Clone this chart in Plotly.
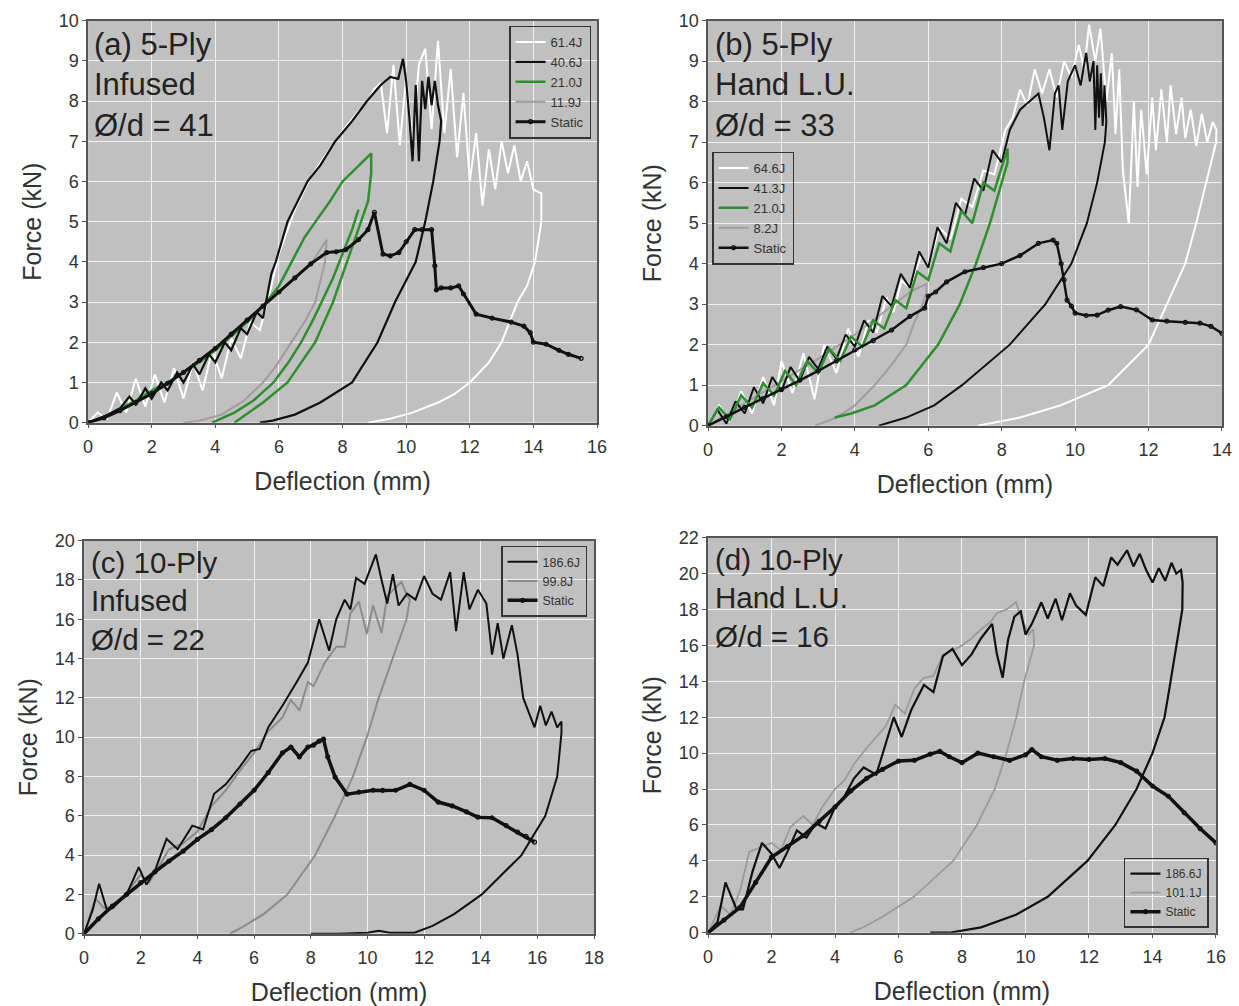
import plotly.graph_objects as go

FONT = "Liberation Sans, Arial, Helvetica, sans-serif"

# ---------------- Panel (a): 5-Ply Infused ----------------
A_X_614 = [0, 0.3, 0.6, 0.9, 1.2, 1.5, 1.8, 2.1, 2.4, 2.7, 3.0, 3.3, 3.6, 3.9, 4.2, 4.5, 4.8, 5.1, 5.4, 5.7,
           6.0, 6.5, 7.0, 7.5, 8.0, 8.5, 8.8, 9.0, 9.2, 9.4, 9.6, 9.8, 10.0, 10.2, 10.4, 10.6, 10.8, 11.0, 11.2, 11.4,
           11.6, 11.8, 12.0, 12.2, 12.4, 12.6, 12.8, 13.0, 13.2, 13.4, 13.6, 13.8, 14.0, 14.25,
           14.25, 14.05, 13.8, 13.5, 13.25, 13.0, 12.6, 12.0, 11.5, 11.0, 10.2, 9.5, 8.8]
A_Y_614 = [0, 0.25, 0.1, 0.75, 0.25, 1.1, 0.4, 1.2, 0.5, 1.35, 0.6, 1.5, 0.8, 1.8, 1.1, 2.1, 1.6, 2.5, 2.3, 3.2,
           4.2, 5.3, 6.1, 6.7, 7.25, 7.75, 8.0, 8.3, 8.45, 7.2, 8.9, 6.9, 8.6, 7.0, 8.9, 9.3, 7.3, 9.5, 7.2, 8.8,
           6.6, 8.2, 6.0, 7.2, 5.4, 6.8, 5.8, 7.0, 6.2, 6.9, 6.0, 6.5, 5.8, 5.7,
           5.0, 4.0, 3.4, 3.0, 2.5, 2.0, 1.5, 1.0, 0.7, 0.5, 0.25, 0.1, 0.0]

A_X_406 = [0, 0.5, 1.0, 1.3, 1.5, 1.8, 2.0, 2.3, 2.5, 2.8, 3.0, 3.3, 3.5, 3.8, 4.0, 4.3, 4.5, 4.8, 5.0, 5.3,
           5.5, 5.76, 5.9, 6.27, 6.9, 7.3, 7.77, 8.3, 8.77, 9.2, 9.5, 9.75, 9.9, 10.0, 10.1, 10.2, 10.3, 10.4, 10.5, 10.6,
           10.7, 10.8, 10.9, 11.0, 11.1,
           11.05, 10.85, 10.6, 10.3, 9.65, 9.1, 8.7, 8.3, 7.3, 6.5, 5.8, 5.4]
A_Y_406 = [0, 0.15, 0.35, 0.65, 0.45, 0.85, 0.6, 1.0, 0.8, 1.25, 1.0, 1.45, 1.2, 1.7, 1.5, 2.0, 1.8, 2.35, 2.2, 2.75,
           2.6, 3.7, 4.0, 5.0, 6.0, 6.4, 7.0, 7.5, 8.0, 8.4, 8.6, 8.55, 9.05, 8.5, 7.6, 6.5, 8.4, 6.5, 8.5, 7.8,
           8.6, 7.9, 8.5, 7.9, 7.5,
           7.0, 6.0, 5.0, 4.0, 3.0, 2.0, 1.5, 1.0, 0.5, 0.2, 0.05, 0.0]

A_X_210 = [0, 0.5, 1.0, 1.5, 2.0, 2.5, 3.0, 3.5, 4.0, 4.5, 5.0, 5.5, 5.8, 6.0, 6.4, 6.8, 7.15, 7.6, 8.0, 8.5, 8.9,
           8.9, 8.8, 8.58, 8.15, 7.7, 7.14, 6.27, 5.5, 4.6, None,
           3.9, 4.6, 5.2, 5.83, 6.3, 6.7, 7.1, 7.4, 7.7, 8.0, 8.3, 8.5]
A_Y_210 = [0, 0.15, 0.35, 0.55, 0.8, 1.0, 1.25, 1.5, 1.8, 2.15, 2.5, 2.9, 3.2, 3.4, 4.0, 4.6, 5.0, 5.5, 6.0, 6.4, 6.7,
           6.2, 5.5, 5.0, 4.0, 3.0, 2.0, 1.0, 0.5, 0.0, None,
           0, 0.25, 0.55, 1.0, 1.5, 2.0, 2.6, 3.1, 3.6, 4.2, 4.8, 5.3]

A_X_119 = [0, 1, 2, 3, 4, 5, 6, 6.5, 7.0, 7.3, 7.5, 7.45, 7.3, 7.14, 6.8, 6.4, 5.9, 5.5, 4.9, 4.2, 3.5, 3.0]
A_Y_119 = [0, 0.3, 0.72, 1.25, 1.85, 2.55, 3.25, 3.6, 3.95, 4.3, 4.55, 4.0, 3.5, 3.0, 2.5, 2.0, 1.4, 1.0, 0.55, 0.2, 0.05, 0.0]

A_X_ST = [0, 0.5, 1, 1.5, 2, 2.5, 3, 3.5, 4, 4.5, 5, 5.5, 6, 6.5, 7, 7.5, 7.8, 8.1, 8.5, 8.8,
          9.0, 9.27, 9.5, 9.77, 10.0, 10.27, 10.5, 10.8, 10.9, 10.95, 11.1, 11.4, 11.65, 11.8, 12.2, 12.7, 13.3, 13.7, 13.9, 14.0,
          14.4, 14.8, 15.1, 15.5]
A_Y_ST = [0, 0.12, 0.3, 0.5, 0.72, 0.98, 1.25, 1.55, 1.85, 2.2, 2.55, 2.9, 3.25, 3.6, 3.95, 4.23, 4.25, 4.3, 4.55, 4.8,
          5.23, 4.19, 4.15, 4.23, 4.5, 4.8, 4.8, 4.8, 3.9, 3.3, 3.35, 3.35, 3.4, 3.2, 2.7, 2.6, 2.5, 2.4, 2.24, 2.0,
          1.95, 1.8, 1.7, 1.6]

# ---------------- Panel (b): 5-Ply Hand L.U. ----------------
B_X_646 = [0, 0.3, 0.6, 0.9, 1.2, 1.5, 1.8, 2.0, 2.3, 2.6, 2.9, 3.16, 3.5, 3.82, 4.1, 4.37, 4.6, 4.86, 5.05, 5.27,
           5.5, 5.8, 6.0, 6.3, 6.6, 6.9, 7.2, 7.5, 7.8, 8.1,
           8.3, 8.5, 8.7, 8.9, 9.1, 9.3, 9.5, 9.7, 9.9, 10.1, 10.25, 10.38, 10.55, 10.69, 10.85, 11.0, 11.1, 11.2, 11.3, 11.46,
           11.6, 11.7, 11.8, 11.95, 12.1, 12.2, 12.35, 12.5, 12.6, 12.75, 12.9, 13.0, 13.15, 13.3, 13.45, 13.6, 13.75, 13.85,
           13.84, 13.57, 13.3, 13.0, 12.5, 12.0, 10.9, 9.6, 8.5, 7.35]
B_Y_646 = [0, 0.5, 0.1, 0.85, 0.3, 1.2, 0.5, 1.6, 0.8, 1.78, 0.65, 2.0, 1.3, 2.4, 1.7, 2.6, 2.3, 3.16, 2.8, 3.58,
           3.4, 4.2, 3.9, 4.9, 4.6, 5.6, 5.4, 6.3, 6.2, 7.3,
           7.6, 8.3, 7.9, 8.8, 8.2, 8.8, 8.1, 9.0, 8.6, 9.4, 8.8, 9.9, 9.0, 9.8, 8.0, 9.2, 7.2, 8.8, 6.3, 5.0,
           8.0, 5.9, 7.8, 6.2, 8.1, 6.8, 8.3, 7.0, 8.4, 7.2, 8.1, 7.1, 7.8, 6.9, 7.7, 7.0, 7.5, 7.3,
           7.0, 6.0, 5.0, 4.0, 3.0, 2.0, 1.0, 0.5, 0.2, 0.0]

B_X_413 = [0, 0.25, 0.5, 0.75, 1.0, 1.25, 1.5, 1.75, 2.0, 2.25, 2.5, 2.75, 3.0, 3.25, 3.5, 3.75, 4.0, 4.25, 4.5, 4.75,
           5.0, 5.25, 5.5, 5.75, 6.0, 6.25, 6.5, 6.75, 7.0, 7.25, 7.5, 7.75, 8.0, 8.22,
           8.5, 8.8, 9.0, 9.15, 9.3, 9.45, 9.55, 9.65, 9.8, 10.0, 10.15, 10.3, 10.4, 10.5, 10.55, 10.6, 10.65, 10.7, 10.75, 10.8, 10.85,
           10.81, 10.6, 10.32, 9.9, 9.19, 8.22, 6.92, 6.16, 5.4, 4.65]
B_Y_413 = [0, 0.4, 0.05, 0.6, 0.3, 0.95, 0.55, 1.2, 0.85, 1.45, 1.1, 1.7, 1.4, 1.95, 1.65, 2.25, 1.95, 2.6, 2.3, 3.2,
           2.95, 3.75, 3.4, 4.3, 3.9, 4.9, 4.5, 5.5, 5.2, 6.1, 5.8, 6.8, 6.5, 7.3,
           7.8, 8.05, 8.2, 7.6, 6.8, 8.2, 8.4, 7.3, 8.5, 8.9, 8.4, 9.2, 8.5, 9.0, 7.3, 8.9, 7.6, 8.7, 7.4, 8.4, 7.5,
           7.0, 6.0, 5.0, 4.0, 3.0, 2.0, 1.0, 0.5, 0.2, 0.0]

B_X_210 = [0, 0.3, 0.6, 0.9, 1.2, 1.5, 1.8, 2.1, 2.4, 2.7, 3.0, 3.3, 3.6, 3.9, 4.2, 4.5, 4.8, 5.1, 5.4, 5.7,
           6.0, 6.3, 6.6, 6.9, 7.2, 7.5, 7.8, 8.16,
           8.16, 8.0, 7.68, 7.3, 6.86, 6.27, 5.4, 4.54, 3.9, 3.45]
B_Y_210 = [0, 0.45, 0.15, 0.75, 0.45, 1.05, 0.75, 1.35, 1.0, 1.6, 1.3, 1.9, 1.6, 2.2, 1.95, 2.6, 2.4, 3.1, 2.9, 3.8,
           3.6, 4.5, 4.3, 5.3, 5.0, 6.0, 5.8, 6.84,
           6.5, 6.0, 5.0, 4.0, 3.0, 2.0, 1.0, 0.5, 0.3, 0.2]

B_X_82 = [0, 1, 2, 3, 4, 5, 5.5, 5.95, 5.95, 5.84, 5.6, 5.4, 5.0, 4.54, 4.0, 3.5, 2.92]
B_Y_82 = [0, 0.55, 1.1, 1.65, 2.25, 2.95, 3.3, 3.5, 3.3, 3.0, 2.5, 2.0, 1.5, 1.0, 0.5, 0.2, 0.0]

B_X_ST = [0, 0.5, 1, 1.5, 2, 2.5, 3, 3.5, 4, 4.5, 5, 5.5, 5.9, 6.0, 6.2, 6.5, 7, 7.5, 8, 8.5,
          9, 9.4, 9.5, 9.62, 9.7, 9.78, 9.9, 10.0, 10.3, 10.6, 10.9, 11.24, 11.67, 12.1, 12.5, 13.0, 13.4, 13.7, 14.0]
B_Y_ST = [0, 0.22, 0.45, 0.67, 0.89, 1.12, 1.35, 1.6, 1.87, 2.1, 2.36, 2.7, 2.9, 3.2, 3.3, 3.55, 3.8, 3.9, 4.0, 4.2,
          4.5, 4.58, 4.5, 4.0, 3.6, 3.1, 2.95, 2.78, 2.72, 2.73, 2.85, 2.94, 2.86, 2.61, 2.58, 2.55, 2.53, 2.45, 2.28]

# ---------------- Panel (c): 10-Ply Infused ----------------
C_X_1866 = [0, 0.3, 0.53, 0.81, 1.0, 1.5, 1.93, 2.2, 2.5, 2.91, 3.3, 3.82, 4.2, 4.59, 5.0, 5.5, 5.9, 6.2, 6.5, 7.0,
            7.5, 7.9, 8.3, 8.65, 8.9, 9.2, 9.4, 9.6, 9.9, 10.3, 10.5, 10.7, 10.9, 11.1, 11.4, 11.7, 12.0, 12.3, 12.6, 12.92,
            13.13, 13.4, 13.6, 13.9, 14.2, 14.4, 14.6, 14.8, 15.1, 15.3, 15.5, 15.7, 15.9, 16.1, 16.3, 16.5, 16.7, 16.85,
            16.85, 16.7, 16.28, 15.44, 14.6, 14.04, 13.06, 12.3, 11.66, 10.8, 10.4, 10.0, 9.0, 8.0]
C_Y_1866 = [0, 1.2, 2.54, 1.19, 1.3, 2.0, 3.39, 2.5, 3.2, 4.83, 4.3, 5.5, 5.3, 7.12, 7.6, 8.5, 9.3, 9.4, 10.5, 11.6,
            12.8, 13.8, 16.0, 14.4, 16.0, 17.0, 16.5, 18.1, 17.8, 19.3, 18.0, 16.8, 18.3, 16.7, 17.3, 17.0, 18.2, 17.3, 17.0, 18.4,
            15.4, 18.4, 16.5, 17.5, 16.8, 14.2, 15.8, 14.0, 15.7, 14.2, 12.0, 11.2, 10.5, 11.6, 10.6, 11.3, 10.5, 10.8,
            10.2, 8.0, 6.0, 4.0, 2.8, 2.0, 1.0, 0.4, 0.05, 0.05, 0.15, 0.05, 0.0, 0.0]

C_X_998 = [0, 0.4, 0.7, 1.0, 1.5, 2.0, 2.3, 3.0, 3.5, 4.0, 4.5, 5.0, 5.5, 6.0, 6.5, 7.0, 7.3, 7.6, 7.9, 8.1,
           8.5, 8.9, 9.2, 9.4, 9.7, 9.98, 10.2, 10.5, 10.7, 11.0, 11.2, 11.4, 11.5,
           11.38, 10.9, 10.4, 9.98, 9.49, 8.86, 8.16, 7.18, 6.34, 5.6, 5.15]
C_Y_998 = [0, 1.8, 1.3, 1.4, 2.1, 3.0, 2.6, 4.3, 4.6, 5.2, 6.5, 7.3, 8.3, 9.2, 10.3, 11.0, 11.9, 11.36, 12.8, 12.6,
           13.8, 14.6, 14.6, 16.3, 16.9, 15.25, 16.7, 15.3, 17.2, 17.6, 17.9, 17.2, 17.0,
           16.0, 14.0, 12.0, 10.0, 8.0, 6.0, 4.0, 2.0, 1.0, 0.35, 0.0]

C_X_ST = [0, 0.5, 1, 1.5, 2, 2.5, 3, 3.5, 4, 4.5, 5, 5.5, 6, 6.5, 7, 7.3, 7.6, 7.9, 8.1, 8.3,
          8.45, 8.6, 8.86, 9.28, 9.7, 10.2, 10.54, 11.0, 11.5, 12.0, 12.5, 13.0, 13.5, 13.9, 14.4, 14.9, 15.3, 15.6, 15.9]
C_Y_ST = [0, 0.75, 1.4, 2.0, 2.6, 3.15, 3.7, 4.2, 4.8, 5.3, 5.9, 6.6, 7.3, 8.2, 9.2, 9.5, 9.0, 9.5, 9.6, 9.8,
          9.9, 9.0, 7.97, 7.1, 7.2, 7.3, 7.29, 7.3, 7.6, 7.3, 6.7, 6.5, 6.2, 5.93, 5.9, 5.5, 5.17, 4.95, 4.66]

# ---------------- Panel (d): 10-Ply Hand L.U. ----------------
D_X_1866 = [0, 0.3, 0.55, 0.9, 1.1, 1.4, 1.7, 2.0, 2.25, 2.5, 2.8, 3.1, 3.4, 3.7, 4.0, 4.3, 4.6, 4.9, 5.3, 5.6,
            5.85, 6.1, 6.4, 6.8, 7.1, 7.4, 7.7, 8.0, 8.3, 8.6, 8.95, 9.1, 9.28, 9.45, 9.65, 9.85, 10.0, 10.2, 10.5, 10.7,
            10.95, 11.15, 11.4, 11.6, 11.9, 12.2, 12.45, 12.7, 12.9, 13.2, 13.4, 13.6, 13.8, 14.0, 14.2, 14.4, 14.6, 14.75, 14.9, 14.95,
            14.94, 14.57, 14.38, 14.0, 13.5, 12.83, 11.95, 10.7, 9.7, 8.6, 7.6, 7.0]
D_Y_1866 = [0, 0.6, 2.8, 1.3, 1.3, 3.4, 5.0, 4.4, 3.6, 4.5, 5.7, 5.3, 6.1, 5.8, 7.0, 7.6, 8.6, 9.2, 8.8, 10.5,
            12.0, 10.9, 12.4, 13.8, 13.4, 15.4, 15.8, 14.9, 15.5, 16.4, 17.2, 15.5, 14.2, 16.3, 17.6, 17.9, 16.6, 17.2, 18.4, 17.5,
            18.6, 17.4, 18.9, 18.2, 17.7, 19.8, 19.3, 20.9, 20.5, 21.3, 20.4, 21.1, 20.2, 19.5, 20.3, 19.6, 20.6, 20.0, 20.2, 19.5,
            18.0, 14.0, 12.0, 10.0, 8.0, 6.0, 4.0, 2.0, 1.0, 0.3, 0.0, 0.0]

D_X_1011 = [0, 0.4, 0.7, 1.0, 1.3, 1.6, 2.0, 2.3, 2.6, 3.0, 3.3, 3.6, 4.0, 4.3, 4.6, 5.0, 5.3, 5.6, 5.9, 6.2,
            6.5, 6.8, 7.1, 7.4, 7.7, 8.0, 8.3, 8.6, 8.9, 9.1, 9.4, 9.7, 9.85, 10.0, 10.1, 10.25,
            10.27, 9.96, 9.71, 9.4, 9.03, 8.47, 7.72, 6.48, 5.6, 5.0, 4.48]
D_Y_1011 = [0, 1.5, 1.0, 2.3, 4.5, 4.7, 5.0, 4.6, 5.9, 6.5, 6.0, 7.0, 8.0, 8.5, 9.4, 10.3, 10.9, 11.5, 12.7, 12.2,
            13.6, 14.2, 14.3, 15.5, 15.7, 16.0, 16.4, 16.9, 17.3, 17.8, 18.0, 18.4, 17.6, 17.0, 16.6, 16.9,
            16.0, 14.0, 12.0, 10.0, 8.0, 6.0, 4.0, 2.0, 1.0, 0.4, 0.0]

D_X_ST = [0, 0.5, 1, 1.5, 2, 2.5, 3, 3.5, 4, 4.5, 5, 5.5, 6, 6.5, 7, 7.3, 7.6, 8, 8.5, 9,
          9.5, 10, 10.2, 10.5, 11, 11.5, 12, 12.5, 13, 13.5, 14, 14.5, 15, 15.5, 16]
D_Y_ST = [0, 0.7, 1.4, 2.8, 4.2, 4.8, 5.4, 6.2, 7.0, 7.9, 8.6, 9.1, 9.56, 9.6, 9.95, 10.1, 9.8, 9.47, 10.0, 9.8,
          9.6, 9.9, 10.2, 9.8, 9.6, 9.7, 9.65, 9.7, 9.47, 9.0, 8.17, 7.6, 6.68, 5.8, 5.0]

PANEL_TEXT = ["(a) 5-Ply<br>Infused<br>Ø/d = 41",
              "(b) 5-Ply<br>Hand L.U.<br>Ø/d = 33",
              "(c) 10-Ply<br>Infused<br>Ø/d = 22",
              "(d) 10-Ply<br>Hand L.U.<br>Ø/d = 16"]

W, H = 1239, 1006
# mapping from target picture position to figure paper coordinates
# (accounts for the page offset observed in the rendered screenshot)
SX, OX = 0.988, 4.9
SY, OY = 0.98, 9.4


def px(v):
    return ((v - OX) / SX) / W


def py(v):
    return 1 - ((v - OY) / SY) / H


fig = go.Figure()

WHITE = "#ffffff"
BLACK = "#111111"
GREEN = "#2f8f2f"
GRAY_A = "#a49aa0"
GRAY_C = "#8c8c8c"
GRAY_D = "#9a9a9a"


def line(x, y, name, color, width, xa, ya, leg, rank, static=False):
    kw = dict(x=x, y=y, name=name, xaxis=xa, yaxis=ya, legend=leg, legendrank=rank,
              connectgaps=False, hoverinfo="skip")
    if static:
        fig.add_trace(go.Scatter(mode="lines+markers",
                                 line=dict(color=BLACK, width=width),
                                 marker=dict(symbol="circle-open", size=4, color=BLACK,
                                             line=dict(width=1.2, color=BLACK)), **kw))
    else:
        fig.add_trace(go.Scatter(mode="lines", line=dict(color=color, width=width), **kw))


# panel a
line(A_X_614, A_Y_614, "61.4J", WHITE, 2, "x", "y", "legend", 1)
line(A_X_119, A_Y_119, "11.9J", GRAY_A, 2, "x", "y", "legend", 4)
line(A_X_210, A_Y_210, "21.0J", GREEN, 2.5, "x", "y", "legend", 3)
line(A_X_406, A_Y_406, "40.6J", BLACK, 2.2, "x", "y", "legend", 2)
line(A_X_ST, A_Y_ST, "Static", BLACK, 3, "x", "y", "legend", 5, static=True)

# panel b
line(B_X_646, B_Y_646, "64.6J", WHITE, 2, "x2", "y2", "legend2", 1)
line(B_X_82, B_Y_82, "8.2J", GRAY_A, 2, "x2", "y2", "legend2", 4)
line(B_X_413, B_Y_413, "41.3J", BLACK, 2, "x2", "y2", "legend2", 2)
line(B_X_210, B_Y_210, "21.0J", GREEN, 2.5, "x2", "y2", "legend2", 3)
line(B_X_ST, B_Y_ST, "Static", BLACK, 2.5, "x2", "y2", "legend2", 5, static=True)

# panel c
line(C_X_998, C_Y_998, "99.8J", GRAY_C, 2, "x3", "y3", "legend3", 2)
line(C_X_1866, C_Y_1866, "186.6J", BLACK, 2, "x3", "y3", "legend3", 1)
line(C_X_ST, C_Y_ST, "Static", BLACK, 3.5, "x3", "y3", "legend3", 3, static=True)

# panel d
line(D_X_1011, D_Y_1011, "101.1J", GRAY_D, 1.8, "x4", "y4", "legend4", 2)
line(D_X_1866, D_Y_1866, "186.6J", BLACK, 2.2, "x4", "y4", "legend4", 1)
line(D_X_ST, D_Y_ST, "Static", BLACK, 3.5, "x4", "y4", "legend4", 3, static=True)


def xax(dom, rng, anchor):
    return dict(domain=dom, range=rng, dtick=2, anchor=anchor, showgrid=True, gridcolor="#f2f2f2",
                gridwidth=1, zeroline=False, showline=True, linecolor="#555555", linewidth=1.5,
                mirror=True, ticks="outside", ticklen=4, tickcolor="#555555", ticklabelstandoff=3,
                tickfont=dict(size=18, color="#333333", family=FONT),
                title=dict(text="Deflection (mm)", font=dict(size=25, color="#333333", family=FONT), standoff=16))


def yax(dom, rng, dt, anchor):
    return dict(domain=dom, range=rng, dtick=dt, anchor=anchor, showgrid=True, gridcolor="#f2f2f2",
                gridwidth=1, zeroline=False, showline=True, linecolor="#555555", linewidth=1.5,
                mirror=True, ticks="outside", ticklen=4, tickcolor="#555555",
                tickfont=dict(size=18, color="#333333", family=FONT),
                title=dict(text="Force (kN)", font=dict(size=25, color="#333333", family=FONT), standoff=10))


def leg(x, y, xanchor, yanchor, size):
    return dict(x=x, y=y, xanchor=xanchor, yanchor=yanchor, bgcolor="rgba(0,0,0,0)",
                bordercolor="#333333", borderwidth=1.5, tracegroupgap=0, itemwidth=30,
                font=dict(size=size, color="#333333", family=FONT))


annotations = []
ann_pos = [(92, 24, 31), (713, 24, 31), (89, 543, 29.5), (713, 540, 29.5)]
for txt, (ax_, ay_, fs) in zip(PANEL_TEXT, ann_pos):
    annotations.append(dict(text=txt, x=px(ax_), y=py(ay_), xref="paper", yref="paper",
                            xanchor="left", yanchor="top", align="left", showarrow=False,
                            font=dict(size=fs, color="#222222", family=FONT)))

fig.update_layout(
    width=W, height=H, margin=dict(l=0, r=0, t=0, b=0),
    paper_bgcolor="white", plot_bgcolor="#c0c0c0",
    font=dict(family=FONT, color="#333333"),
    xaxis=xax([px(88), px(597)], [0, 16], "y"),
    yaxis=yax([py(422), py(20)], [0, 10], 1, "x"),
    xaxis2=xax([px(708), px(1222)], [0, 14], "y2"),
    yaxis2=yax([py(425), py(20)], [0, 10], 1, "x2"),
    xaxis3=xax([px(84), px(594)], [0, 18], "y3"),
    yaxis3=yax([py(933), py(540)], [0, 20], 2, "x3"),
    xaxis4=xax([px(708), px(1216)], [0, 16], "y4"),
    yaxis4=yax([py(932), py(537)], [0, 22], 2, "x4"),
    legend=leg(px(591), py(25), "right", "top", 13),
    legend2=leg(px(712), py(151), "left", "top", 13),
    legend3=leg(px(587), py(545), "right", "top", 12.5),
    legend4=leg(px(1209), py(927), "right", "bottom", 12),
    annotations=annotations,
)

fig.write_html("out.html")
